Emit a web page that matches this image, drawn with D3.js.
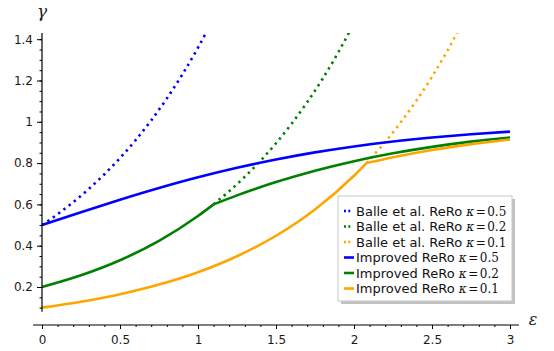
<!DOCTYPE html>
<html lang="en">

<head>
    <title>ReRo gamma vs epsilon</title>
    <meta charset="utf-8">
    <script src="https://d3js.org/d3.v7.min.js"></script>
    <style>
        body {
            margin: 0;
            background: #fff;
        }

        .line {
            fill: none;
        }

        .tick text {
            font-family: "DejaVu Sans", sans-serif;
            font-size: 12px;
            fill: #1a1a1a;
        }

        .legend-text {
            font-family: "DejaVu Sans", sans-serif;
            font-size: 13px;
            fill: #111;
        }

        .math {
            font-family: "DejaVu Serif", "Liberation Serif", serif;
        }
    </style>
</head>

<body>
    <div id="chart"></div>
    <script>
        const w = 554;
        const h = 351;

        // Balle et al. ReRo (dotted), [epsilon, gamma]
        const balle05 = [[0, 0.5], [0.1, 0.5526], [0.2, 0.6107], [0.3, 0.6749], [0.4, 0.7459], [0.5, 0.8244],
            [0.6, 0.9111], [0.7, 1.0069], [0.8, 1.1128], [0.9, 1.2298], [1.0, 1.3591], [1.1, 1.5021]];
        const balle02 = [[1.1, 0.6008], [1.2, 0.664], [1.3, 0.7339], [1.4, 0.811], [1.5, 0.8963], [1.6, 0.9906],
            [1.7, 1.0948], [1.8, 1.2099], [1.9, 1.3372], [2.0, 1.4778]];
        const balle01 = [[2.08, 0.8004], [2.2, 0.9025], [2.3, 0.9974], [2.4, 1.1023], [2.5, 1.2182], [2.6, 1.3464],
            [2.7, 1.488]];

        // Improved ReRo (solid), [epsilon, gamma]
        const improved05 = [[0, 0.5], [0.25, 0.5622], [0.5, 0.6225], [0.75, 0.6792], [1, 0.7311], [1.25, 0.7773],
            [1.5, 0.8176], [1.75, 0.852], [2, 0.8808], [2.25, 0.9047], [2.5, 0.9241], [2.75, 0.9399], [3, 0.9526]];
        const improved02 = [[0, 0.2], [0.25, 0.2568], [0.5, 0.3297], [0.75, 0.4234], [1, 0.5437], [1.1, 0.6],
            [1.25, 0.6437], [1.5, 0.7081], [1.75, 0.7631], [2, 0.8093], [2.25, 0.8474], [2.5, 0.8786], [2.75, 0.9039], [3, 0.9241]];
        const improved01 = [[0, 0.1], [0.25, 0.1284], [0.5, 0.1649], [0.75, 0.2117], [1, 0.2718], [1.25, 0.349],
            [1.5, 0.4482], [1.75, 0.5755], [2, 0.7389], [2.08, 0.8], [2.25, 0.8284], [2.5, 0.8635], [2.75, 0.8918], [3, 0.9146]];
        // epsilon where each improved curve switches branch
        const kinks = [0, 1.1, 2.08];

        const kappas = ["0.5", "0.2", "0.1"];
        const colors = ["#0000ff", "#008000", "#ffa500"];

        const xTicks = [0, 0.5, 1, 1.5, 2, 2.5, 3];
        const yTicks = [0.2, 0.4, 0.6, 0.8, 1, 1.2, 1.4];
        const xMinor = d3.range(0, 3.001, 0.1);
        const yMinor = d3.range(0.1, 1.401, 0.05);

        const svg = d3.select("#chart")
            .append("svg")
            .attr("width", w)
            .attr("height", h);

        const xScale = d3.scaleLinear().domain([0, 3]).range([42, 510]);
        const yScale = d3.scaleLinear().domain([0, 1.4]).range([328.3, 39.2]);
        const yTop = 1.43;

        svg.append("clipPath").attr("id", "clip")
            .append("rect")
            .attr("x", 30).attr("y", yScale(yTop))
            .attr("width", 500).attr("height", h);

        const line = d3.line()
            .x(d => xScale(d[0]))
            .y(d => yScale(d[1]))
            .curve(d3.curveMonotoneX);

        const plot = svg.append("g").attr("clip-path", "url(#clip)");

        // dotted Balle et al. curves
        [balle05, balle02, balle01].forEach((s, i) => {
            plot.append("path")
                .attr("class", "line")
                .attr("d", line(s))
                .attr("stroke", colors[i])
                .attr("stroke-width", 2.6)
                .attr("stroke-dasharray", "2.4,4.2");
        });

        // solid improved curves, drawn in two pieces around the kink
        [improved05, improved02, improved01].forEach((s, i) => {
            const a = s.filter(d => d[0] <= kinks[i]);
            const b = s.filter(d => d[0] >= kinks[i]);
            [a, b].forEach(part => {
                if (part.length < 2) return;
                plot.append("path")
                    .attr("class", "line")
                    .attr("d", line(part))
                    .attr("stroke", colors[i])
                    .attr("stroke-width", 2.6)
                    .attr("stroke-linejoin", "round");
            });
        });

        // axes
        const axisY = 325;
        const xAxis = d3.axisBottom(xScale).tickValues(xTicks).tickSize(4).tickPadding(6).tickFormat(d => String(d));
        const xAxisMinor = d3.axisBottom(xScale).tickValues(xMinor).tickSize(2).tickFormat("");
        const yAxis = d3.axisLeft(yScale).tickValues(yTicks).tickSize(5).tickPadding(4).tickFormat(d => String(d));
        const yAxisMinor = d3.axisLeft(yScale).tickValues(yMinor).tickSize(2.5).tickFormat("");

        svg.append("g").attr("transform", `translate(0, ${axisY})`).call(xAxisMinor);
        svg.append("g").attr("transform", `translate(0, ${axisY})`).call(xAxis);
        svg.append("g").attr("transform", `translate(42, 0)`).call(yAxisMinor);
        svg.append("g").attr("transform", `translate(42, 0)`).call(yAxis);
        svg.selectAll(".domain").remove();
        svg.selectAll(".tick line").attr("stroke", "#000").attr("stroke-width", 1);

        svg.append("line")
            .attr("x1", xScale(-0.058)).attr("x2", xScale(3.058))
            .attr("y1", axisY).attr("y2", axisY)
            .attr("stroke", "#000").attr("stroke-width", 1.2);
        svg.append("line")
            .attr("x1", 42).attr("x2", 42)
            .attr("y1", yScale(yTop)).attr("y2", yScale(0.08))
            .attr("stroke", "#000").attr("stroke-width", 1.2);

        svg.append("text")
            .attr("class", "math")
            .attr("x", 42).attr("y", 17)
            .attr("text-anchor", "middle")
            .attr("font-style", "italic")
            .attr("font-size", 17)
            .attr("fill", "#222")
            .text("γ");
        svg.append("text")
            .attr("class", "math")
            .attr("x", 533).attr("y", 325)
            .attr("text-anchor", "middle")
            .attr("font-style", "italic")
            .attr("font-size", 16)
            .attr("fill", "#222")
            .text("ε");

        // legend
        const legend = svg.append("g");
        legend.append("rect")
            .attr("x", 341).attr("y", 199).attr("width", 174).attr("height", 105)
            .attr("fill", "#999").attr("opacity", 0.6);
        legend.append("rect")
            .attr("x", 338).attr("y", 196).attr("width", 174).attr("height", 105)
            .attr("fill", "#fff").attr("stroke", "#c8c8c8").attr("stroke-width", 1);

        const labels = [];
        kappas.forEach((k, i) => labels.push({ name: "Balle et al. ReRo", k: k, color: colors[i], dotted: true }));
        kappas.forEach((k, i) => labels.push({ name: "Improved ReRo", k: k, color: colors[i], dotted: false }));

        labels.forEach((d, i) => {
            const y = 211 + i * 15.5;
            legend.append("line")
                .attr("x1", 344).attr("x2", d.dotted ? 350.6 : 354)
                .attr("y1", y).attr("y2", y)
                .attr("stroke", d.color)
                .attr("stroke-width", 2.6)
                .attr("stroke-dasharray", d.dotted ? "2,2.3" : null);
            const t = legend.append("text")
                .attr("class", "legend-text")
                .attr("x", 356).attr("y", y)
                .attr("dy", "0.36em");
            t.append("tspan").text(d.name + " ");
            t.append("tspan").attr("class", "math").attr("font-style", "italic").attr("font-size", 12).text("κ");
            t.append("tspan").attr("class", "math").attr("font-size", 12).attr("dx", 1.5).text("=");
            t.append("tspan").attr("class", "math").attr("font-size", 12).attr("dx", 1.5).text(d.k);
        });
    </script>
</body>

</html>
